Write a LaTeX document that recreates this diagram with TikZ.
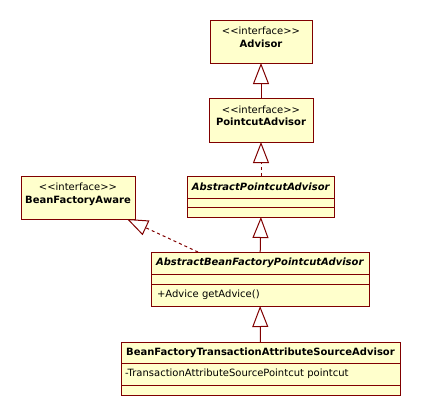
\documentclass[tikz,border=0pt]{standalone}
\usepackage{fontspec}
\newfontfamily\umlfont{DejaVu Sans}
\usetikzlibrary{arrows.meta, positioning}
\definecolor{umlline}{HTML}{800000}
\definecolor{umlfill}{HTML}{FFFFCC}

\begin{document}
\begin{tikzpicture}[x=1pt, y=-1pt,
  box/.style={draw=umlline, fill=umlfill, line width=1pt, inner sep=0pt, outer sep=0pt,
    font=\umlfont\fontsize{10}{12.5}\selectfont},
  cls/.style={box, align=center},
  iface/.style={cls, text depth=9pt},
  slot/.style={box, below=0pt of #1},
  gen/.style={draw=umlline, line width=1pt, -{Triangle[length=21pt, width=16pt, fill=white, line width=1pt]}},
  real/.style={gen, dash pattern=on 3pt off 3pt}]
\useasboundingbox (0,0) rectangle (421,416);

% interfaces
\node[iface, minimum width=102, minimum height=43] (advisor) at (261,41.5) {<<interface>>\\\textbf{Advisor}};
\node[iface, minimum width=104, minimum height=44] (pointcut) at (261,120) {<<interface>>\\\textbf{PointcutAdvisor}};
\node[iface, minimum width=114, minimum height=43] (bfa) at (78,197.5) {<<interface>>\\\textbf{BeanFactoryAware}};

% classes
\node[cls, minimum width=147, minimum height=22] (apa) at (261,187) {\textbf{\textit{AbstractPointcutAdvisor}}};
\node[slot=apa, minimum width=147, minimum height=9] (apa2) {};
\node[slot=apa2, minimum width=147, minimum height=10] (apa3) {};

\node[cls, minimum width=218, minimum height=22] (abfpa) at (260,263) {\textbf{\textit{AbstractBeanFactoryPointcutAdvisor}}};
\node[slot=abfpa, minimum width=218, minimum height=10] (abfpa2) {};
\node[slot=abfpa2, minimum width=218, minimum height=22, text width=206, align=left] (abfpa3) {+Advice getAdvice()};

\node[cls, minimum width=279, minimum height=21] (bftasa) at (260.5,352.5) {\textbf{BeanFactoryTransactionAttributeSourceAdvisor}};
\node[slot=bftasa, minimum width=279, minimum height=22, text width=271, align=left] (bftasa2) {-TransactionAttributeSourcePointcut pointcut};
\node[slot=bftasa2, minimum width=279, minimum height=10] (bftasa3) {};

% relations
\draw[gen] (pointcut) -- (advisor);
\draw[real] (apa) -- (pointcut);
\draw[gen] (abfpa) -- (apa3);
\draw[real] ([xshift=47pt]abfpa.north west) -- ([xshift=-8pt]bfa.south east);
\draw[gen] (bftasa) -- (abfpa3);
\end{tikzpicture}
\end{document}
